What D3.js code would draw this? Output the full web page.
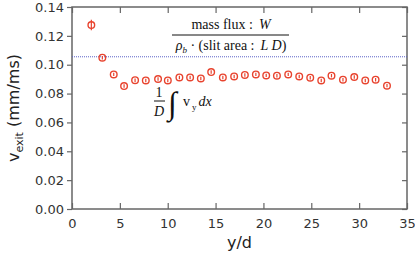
<!DOCTYPE html>
<html lang="en">
<head>
<meta charset="utf-8">
<title>v_exit vs y/d</title>
<script src="https://cdn.jsdelivr.net/npm/d3@7"></script>
<style>
  body { margin: 0; background: #fff; }
  svg { display: block; }
</style>
</head>
<body>
<script>
// positions along the slit (y/d)
var yd = [2.02, 3.17, 4.36, 5.44, 6.59, 7.71, 8.99, 10.01, 11.22, 12.34, 13.46, 14.54, 15.76, 16.94,
          18.06, 19.21, 20.29, 21.41, 22.59, 23.74, 24.89, 26.04, 27.11, 28.31, 29.49, 30.64, 31.72, 32.91];
// exit velocity (mm/ms)
var vexit = [0.1275, 0.1049, 0.0933, 0.0852, 0.0893, 0.0891, 0.0901, 0.0891, 0.0912, 0.0912, 0.0905, 0.0949, 0.0912, 0.0919,
             0.0929, 0.0933, 0.0926, 0.0924, 0.0933, 0.0919, 0.0910, 0.0891, 0.0924, 0.0896, 0.0915, 0.0891, 0.0896, 0.0855];
// error bars
var verr = [0.0036, 0.0012, 0.0012, 0.0012, 0.0012, 0.0012, 0.0012, 0.0012, 0.0012, 0.0012, 0.0012, 0.0012, 0.0012, 0.0012,
            0.0012, 0.0012, 0.0012, 0.0012, 0.0012, 0.0012, 0.0012, 0.0012, 0.0012, 0.0012, 0.0012, 0.0012, 0.0012, 0.0012];
// mass flux reference value
var massFluxLevel = [0.1055];

var xTicks = [0, 5, 10, 15, 20, 25, 30, 35];
var yTicks = [0, 0.02, 0.04, 0.06, 0.08, 0.10, 0.12, 0.14];

var w = 415, h = 259;
var margin = {left: 72, right: 8, top: 7, bottom: 50};

var svg = d3.select("body").append("svg")
  .attr("width", w)
  .attr("height", h);

var x = d3.scaleLinear().domain([0, 35]).range([margin.left, w - margin.right]);
var y = d3.scaleLinear().domain([0, 0.14]).range([h - margin.bottom, margin.top]);

var axisColor = "#666";
var tickFont = "'DejaVu Sans', Verdana, sans-serif";

// frame
svg.append("rect")
  .attr("x", x(0)).attr("y", y(0.14))
  .attr("width", x(35) - x(0)).attr("height", y(0) - y(0.14))
  .attr("fill", "none").attr("stroke", axisColor).attr("stroke-width", 1.5);

// bottom axis, ticks inside
var xAxis = svg.append("g")
  .attr("transform", "translate(0," + y(0) + ")")
  .call(d3.axisBottom(x).tickValues(xTicks).tickSizeInner(-6).tickSizeOuter(0).tickPadding(10));
// top axis mirrored
var xAxisTop = svg.append("g")
  .attr("transform", "translate(0," + y(0.14) + ")")
  .call(d3.axisTop(x).tickValues(xTicks).tickSizeInner(-6).tickSizeOuter(0).tickFormat(""));
// left axis, ticks outside
var yAxis = svg.append("g")
  .attr("transform", "translate(" + x(0) + ",0)")
  .call(d3.axisLeft(y).tickValues(yTicks).tickSizeInner(5).tickSizeOuter(0).tickPadding(3).tickFormat(d3.format(".2f")));
// right axis mirrored, ticks inside
var yAxisRight = svg.append("g")
  .attr("transform", "translate(" + x(35) + ",0)")
  .call(d3.axisRight(y).tickValues(yTicks).tickSizeInner(-5).tickSizeOuter(0).tickFormat(""));

[xAxis, xAxisTop, yAxis, yAxisRight].forEach(function(g) {
  g.select(".domain").remove();
  g.selectAll("line").attr("stroke", axisColor).attr("stroke-width", 1.2);
  g.selectAll("text")
    .attr("fill", "#333")
    .style("font-family", tickFont)
    .style("font-size", "13px");
});
xAxis.selectAll("text").attr("dy", "0.71em");

// dotted reference line
svg.selectAll("line.ref")
  .data(massFluxLevel)
  .enter().append("line")
  .attr("class", "ref")
  .attr("x1", x(0)).attr("x2", x(35))
  .attr("y1", function(d) { return y(d); })
  .attr("y2", function(d) { return y(d); })
  .attr("stroke", "#5a63c8")
  .attr("stroke-width", 1)
  .attr("stroke-dasharray", "1,1");

var red = "#e8432e";
var pts = yd.map(function(d, i) { return {x: d, v: vexit[i], e: verr[i]}; });

// error bars
svg.selectAll("line.err")
  .data(pts)
  .enter().append("line")
  .attr("class", "err")
  .attr("x1", function(d) { return x(d.x); })
  .attr("x2", function(d) { return x(d.x); })
  .attr("y1", function(d) { return y(d.v - d.e); })
  .attr("y2", function(d) { return y(d.v + d.e); })
  .attr("stroke", red)
  .attr("stroke-width", 1.2);

// markers
svg.selectAll("circle.pt")
  .data(pts)
  .enter().append("circle")
  .attr("class", "pt")
  .attr("cx", function(d) { return x(d.x); })
  .attr("cy", function(d) { return y(d.v); })
  .attr("r", 3.3)
  .attr("fill", "none")
  .attr("stroke", red)
  .attr("stroke-width", 1.4);

// annotation: mass flux fraction
var serif = "'Liberation Serif', 'Times New Roman', serif";
var ann = svg.append("g").style("font-family", serif).style("font-size", "14px").attr("fill", "#111");
var t1 = ann.append("text").attr("x", 231).attr("y", 29).attr("text-anchor", "middle");
t1.append("tspan").text("mass flux :");
t1.append("tspan").attr("dx", 6).attr("font-style", "italic").text("W");
ann.append("line").attr("x1", 172).attr("x2", 289).attr("y1", 35).attr("y2", 35)
  .attr("stroke", "#111").attr("stroke-width", 1);
var t2 = ann.append("text").attr("x", 231).attr("y", 50).attr("text-anchor", "middle");
t2.append("tspan").attr("font-style", "italic").text("ρ");
t2.append("tspan").attr("font-style", "italic").attr("font-size", "9px").attr("dy", 3).text("b");
t2.append("tspan").attr("dy", -3).text(" · (slit area :");
t2.append("tspan").attr("dx", 6).attr("font-style", "italic").text("L D");
t2.append("tspan").text(")");

// annotation: 1/D ∫ v_y dx
var ann2 = svg.append("g").style("font-family", serif).style("font-size", "14px").attr("fill", "#111");
ann2.append("text").attr("x", 159).attr("y", 97).attr("text-anchor", "middle").text("1");
ann2.append("line").attr("x1", 154).attr("x2", 165).attr("y1", 101).attr("y2", 101)
  .attr("stroke", "#111").attr("stroke-width", 1);
ann2.append("text").attr("x", 159).attr("y", 116).attr("text-anchor", "middle")
  .attr("font-style", "italic").text("D");
ann2.append("text").attr("x", 168).attr("y", 114).style("font-size", "32px").text("∫");
var t3 = ann2.append("text").attr("x", 183).attr("y", 106);
t3.append("tspan").text("v");
t3.append("tspan").attr("font-size", "9px").attr("dy", 4).attr("dx", 2).text("y");
t3.append("tspan").attr("dy", -4).attr("dx", 2).attr("font-style", "italic").text("dx");

// axis titles
svg.append("text")
  .attr("x", (x(0) + x(35)) / 2)
  .attr("y", 248)
  .attr("text-anchor", "middle")
  .attr("fill", "#222")
  .style("font-family", tickFont)
  .style("font-size", "16px")
  .text("y/d");

var yl = svg.append("text")
  .attr("transform", "translate(19," + (y(0.07)) + ") rotate(-90)")
  .attr("text-anchor", "middle")
  .attr("fill", "#222")
  .style("font-family", tickFont)
  .style("font-size", "16px");
yl.append("tspan").text("v");
yl.append("tspan").attr("font-size", "11px").attr("dy", 4).text("exit");
yl.append("tspan").attr("dy", -4).text(" (mm/ms)");
</script>
</body>
</html>
